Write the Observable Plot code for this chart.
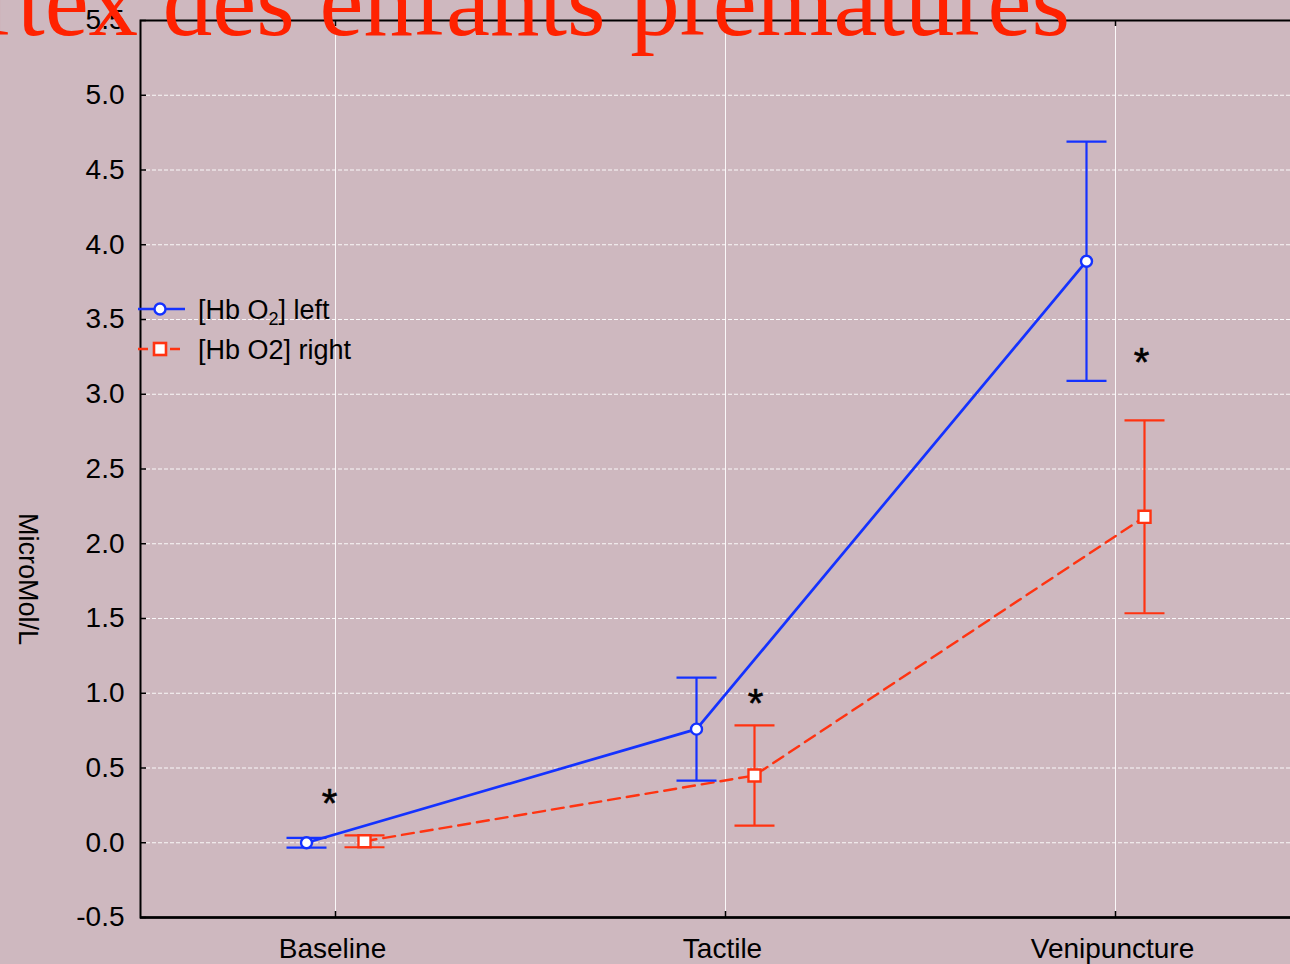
<!DOCTYPE html>
<html><head><meta charset="utf-8">
<script src="https://cdn.jsdelivr.net/npm/d3@7"></script>
<script src="https://cdn.jsdelivr.net/npm/@observablehq/plot@0.6"></script>
<style>
html,body{margin:0;padding:0;background:#CEB8BF;overflow:hidden;width:1290px;height:964px;}
#wrap{position:relative;width:1290px;height:964px;overflow:hidden;}
#title,#chart,#legend{position:absolute;left:0;top:0;}
#chart svg{background:transparent !important;max-width:none !important;width:1320px !important;height:964px !important;}
</style></head><body><div id="wrap"><div id="chart"></div><div id="legend"></div><div id="title"></div></div>
<script>
const categories = ["Baseline", "Tactile", "Venipuncture"];
const leftMean = [0.00, 0.76, 3.89];
const leftErr = [0.033, 0.345, 0.80];
const rightMean = [0.01, 0.45, 2.18];
const rightErr = [0.04, 0.335, 0.645];
const yTicks = [-0.5, 0.0, 0.5, 1.0, 1.5, 2.0, 2.5, 3.0, 3.5, 4.0, 4.5, 5.0, 5.5];
const gridTicks = [0.0, 0.5, 1.0, 1.5, 2.0, 2.5, 3.0, 3.5, 4.0, 4.5, 5.0];
const starX = [-0.015, 1.077, 2.067];
const starY = [0.26, 0.925, 3.205];
const starText = ["*", "*", "*"];
const titleText = "Cortex des enfants prématurés";
const yLabel = "MicroMol/L";
const seriesLeft = "[Hb O₂] left";
const seriesRight = "[Hb O2] right";

const BLUE = "#1432FF", RED = "#FF3311", TITLE_RED = "#FF2200";
const FONT = "Liberation Sans, Arial, sans-serif";

const left = categories.map((c, i) => ({i, y: leftMean[i], lo: leftMean[i] - leftErr[i], hi: leftMean[i] + leftErr[i]}));
const right = categories.map((c, i) => ({i, y: rightMean[i], lo: rightMean[i] - rightErr[i], hi: rightMean[i] + rightErr[i]}));
const stars = starText.map((t, k) => ({t, x: starX[k], y: starY[k]}));

const capSymbol = {draw(ctx) { ctx.moveTo(-20, 0); ctx.lineTo(20, 0); }};

function series(data, color, dx, dashed, symbol, r) {
  return [
    Plot.line(data, {x: "i", y: "y", dx, stroke: color, strokeWidth: dashed ? 2.4 : 2.7, strokeDasharray: dashed ? "12,7" : null}),
    Plot.ruleX(data, {x: "i", y1: "lo", y2: "hi", dx, stroke: color, strokeWidth: 2.2}),
    Plot.dot(data, {x: "i", y: "hi", dx, symbol: capSymbol, stroke: color, strokeWidth: 2.2, fill: "none"}),
    Plot.dot(data, {x: "i", y: "lo", dx, symbol: capSymbol, stroke: color, strokeWidth: 2.2, fill: "none"}),
    Plot.dot(data, {x: "i", y: "y", dx, symbol, r, fill: "white", stroke: color, strokeWidth: 2.4})
  ];
}

const chart = Plot.plot({
  width: 1320, height: 964,
  marginLeft: 140, marginRight: 10, marginTop: 20, marginBottom: 47,
  style: {background: "transparent", fontFamily: FONT, color: "black", maxWidth: "none"},
  x: {type: "linear", domain: [-0.5, 2.5], axis: null},
  y: {domain: [-0.5, 5.5], axis: null},
  marks: [
    Plot.gridY(gridTicks, {stroke: "white", strokeOpacity: 0.9, strokeWidth: 1, strokeDasharray: "4,2"}),
    Plot.gridX([0, 1, 2], {stroke: "white", strokeOpacity: 0.9, strokeWidth: 1}),
    Plot.frame({stroke: "black", strokeWidth: 2}),
    Plot.ruleY([-0.5], {stroke: "black", strokeWidth: 2.5}),
    Plot.tickY(yTicks, {y: d => d, stroke: "black", strokeWidth: 1.5, insetRight: 1164}),
    Plot.tickX([0, 1, 2], {x: d => d, stroke: "black", strokeWidth: 1.5, insetTop: 891}),
    Plot.tickX([0, 1, 2], {x: d => d, stroke: "black", strokeWidth: 1.5, insetBottom: 891}),
    Plot.axisY(yTicks, {tickSize: 0, tickPadding: 16, tickFormat: d => d.toFixed(1), fontSize: 28, label: null}),
    Plot.axisX([0, 1, 2], {tickSize: 0, tickPadding: 21, dx: -3, tickFormat: i => categories[i], fontSize: 28, label: null}),
    Plot.text([yLabel], {frameAnchor: "left", rotate: 90, dx: -113, dy: 44, fontSize: 27, fill: "black"}),
    ...series(right, RED, 29, true, "square", 6.8),
    ...series(left, BLUE, -29, false, "circle", 5.5),
    Plot.text(stars, {x: "x", y: "y", text: "t", fontSize: 40, fill: "black", stroke: "black", strokeWidth: 0.6})
  ]
});
document.getElementById("chart").appendChild(chart);

// Title (drawn over the top of the frame)
const t = d3.select("#title").append("svg").attr("width", 1290).attr("height", 110);
t.append("text").attr("x", 1070).attr("y", 35).attr("text-anchor", "end")
  .attr("font-family", "Liberation Serif, Times New Roman, serif").attr("font-size", 99)
  .attr("fill", TITLE_RED).text(titleText);

// Legend
const lg = d3.select("#legend").append("svg").attr("width", 420).attr("height", 400);
const rows = [
  {y: 309, color: BLUE, dash: null, label: seriesLeft, sym: "circle"},
  {y: 349, color: RED, dash: "10,6", label: seriesRight, sym: "square"}
];
rows.forEach(r => {
  lg.append("line").attr("x1", 138).attr("x2", 185).attr("y1", r.y).attr("y2", r.y)
    .attr("stroke", r.color).attr("stroke-width", r.dash ? 2.4 : 2.7).attr("stroke-dasharray", r.dash);
  if (r.sym === "circle") {
    lg.append("circle").attr("cx", 160).attr("cy", r.y).attr("r", 5.5).attr("fill", "white").attr("stroke", r.color).attr("stroke-width", 2.4);
  } else {
    lg.append("rect").attr("x", 154).attr("y", r.y - 6).attr("width", 12).attr("height", 12).attr("fill", "white").attr("stroke", r.color).attr("stroke-width", 2.6);
  }
  const tx = lg.append("text").attr("x", 198).attr("y", r.y + 10).attr("font-family", FONT).attr("font-size", 27).attr("fill", "black");
  if (r.label.includes("₂")) {
    const parts = r.label.split("₂");
    tx.append("tspan").text(parts[0]);
    tx.append("tspan").attr("font-size", 18).attr("dy", 6).text("2");
    tx.append("tspan").attr("dy", -6).text(parts[1]);
  } else {
    tx.text(r.label);
  }
});
</script></body></html>
